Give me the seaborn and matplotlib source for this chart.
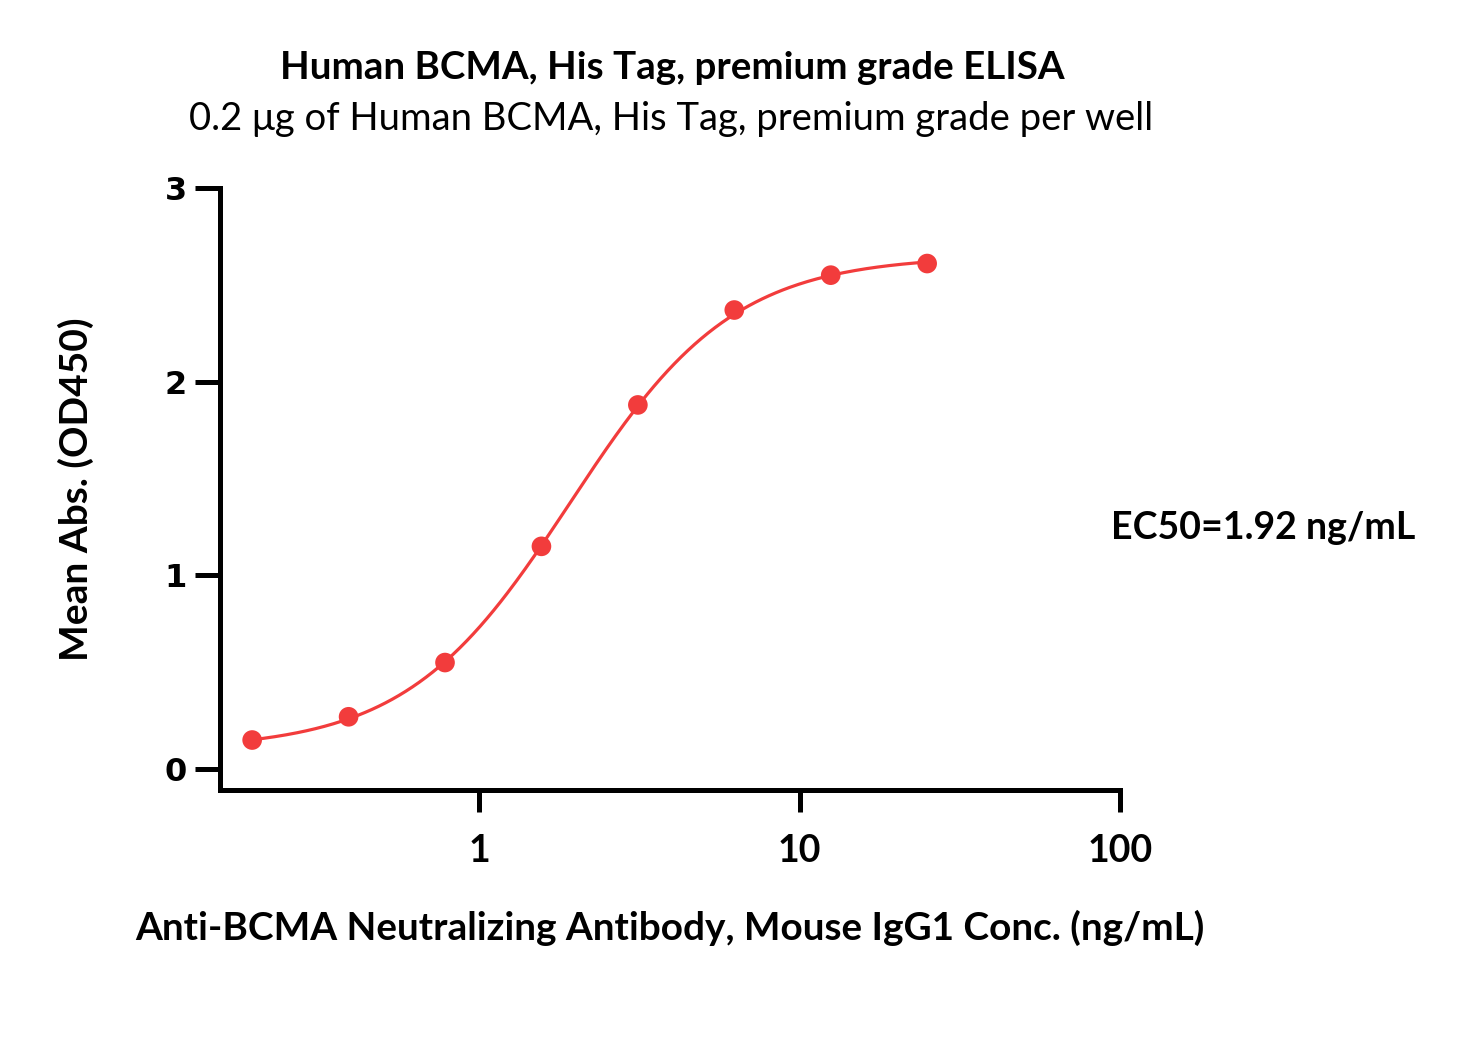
import numpy as np
import pandas as pd
import matplotlib
matplotlib.use("Agg")
import matplotlib.pyplot as plt
import seaborn as sns
from matplotlib.ticker import FixedLocator, NullLocator, FixedFormatter

# measured points (2-fold dilution series)
conc = [0.1953125, 0.390625, 0.78125, 1.5625, 3.125, 6.25, 12.5, 25.0]
od450 = [0.15, 0.27, 0.55, 1.15, 1.88, 2.37, 2.55, 2.61]

# 4PL fit shown on the chart
fit_bottom = 0.10
fit_top = 2.65
fit_ec50 = 1.92
fit_hill = 1.7

xticks = [1, 10, 100]
xtick_labels = ["1", "10", "100"]
yticks = [0, 1, 2, 3]

red = "#F23C3C"

sns.set_theme(style="ticks")
plt.rcParams["font.family"] = ["Lato", "DejaVu Sans"]
plt.rcParams["text.color"] = "black"
plt.rcParams["axes.labelcolor"] = "black"
plt.rcParams["xtick.color"] = "black"
plt.rcParams["ytick.color"] = "black"

df = pd.DataFrame({"conc": conc, "od": od450})
xs = np.logspace(np.log10(conc[0]), np.log10(conc[-1]), 300)
curve = pd.DataFrame({
    "conc": xs,
    "od": fit_bottom + (fit_top - fit_bottom) / (1 + (fit_ec50 / xs) ** fit_hill),
})

fig = plt.figure(figsize=(14.57, 10.44), dpi=100)
ax = fig.add_axes([220 / 1457, 1 - 790 / 1044, 900 / 1457, 602 / 1044])

sns.lineplot(data=curve, x="conc", y="od", color=red, linewidth=2.3, ax=ax)
sns.scatterplot(data=df, x="conc", y="od", color=red, s=200, edgecolor="none", ax=ax, zorder=3)

ax.set_xscale("log")
ax.set_xlim(0.155, 100)
ax.set_ylim(-0.108, 3)
ax.xaxis.set_major_locator(FixedLocator(xticks))
ax.xaxis.set_major_formatter(FixedFormatter(xtick_labels))
ax.xaxis.set_minor_locator(NullLocator())
ax.set_yticks(yticks)

for side in ["top", "right"]:
    ax.spines[side].set_visible(False)
for side in ["left", "bottom"]:
    ax.spines[side].set_linewidth(3.6)
    ax.spines[side].set_color("black")
    ax.spines[side].set_capstyle("projecting")

ax.tick_params(axis="y", length=18, width=3.6, pad=6, labelsize=23, color="black")
ax.tick_params(axis="x", length=16, width=3.6, pad=16, labelsize=27, color="black")
for lbl in ax.get_yticklabels():
    lbl.set_family("DejaVu Sans")
    lbl.set_fontweight("bold")
for lbl in ax.get_xticklabels():
    lbl.set_fontweight("bold")

ax.set_xlabel("Anti-BCMA Neutralizing Antibody, Mouse IgG1 Conc. (ng/mL)",
              fontsize=27.9, fontweight="bold")
ax.set_ylabel("Mean Abs. (OD450)", fontsize=28, fontweight="bold")
ax.xaxis.set_label_coords(0.5, -0.199)
ax.yaxis.set_label_coords(-0.14, 0.5)

fig.text(672 / 1457, 1 - 68 / 1044, "Human BCMA, His Tag, premium grade ELISA",
         ha="center", va="center", fontsize=27.7, fontweight="bold")
fig.text(671 / 1457, 1 - 119 / 1044, "0.2 μg of Human BCMA, His Tag, premium grade per well",
         ha="center", va="center", fontsize=27.5)
fig.text(1263 / 1457, 1 - 528 / 1044, "EC50=1.92 ng/mL",
         ha="center", va="center", fontsize=27, fontweight="bold")

fig.savefig("out.png", dpi=100)
